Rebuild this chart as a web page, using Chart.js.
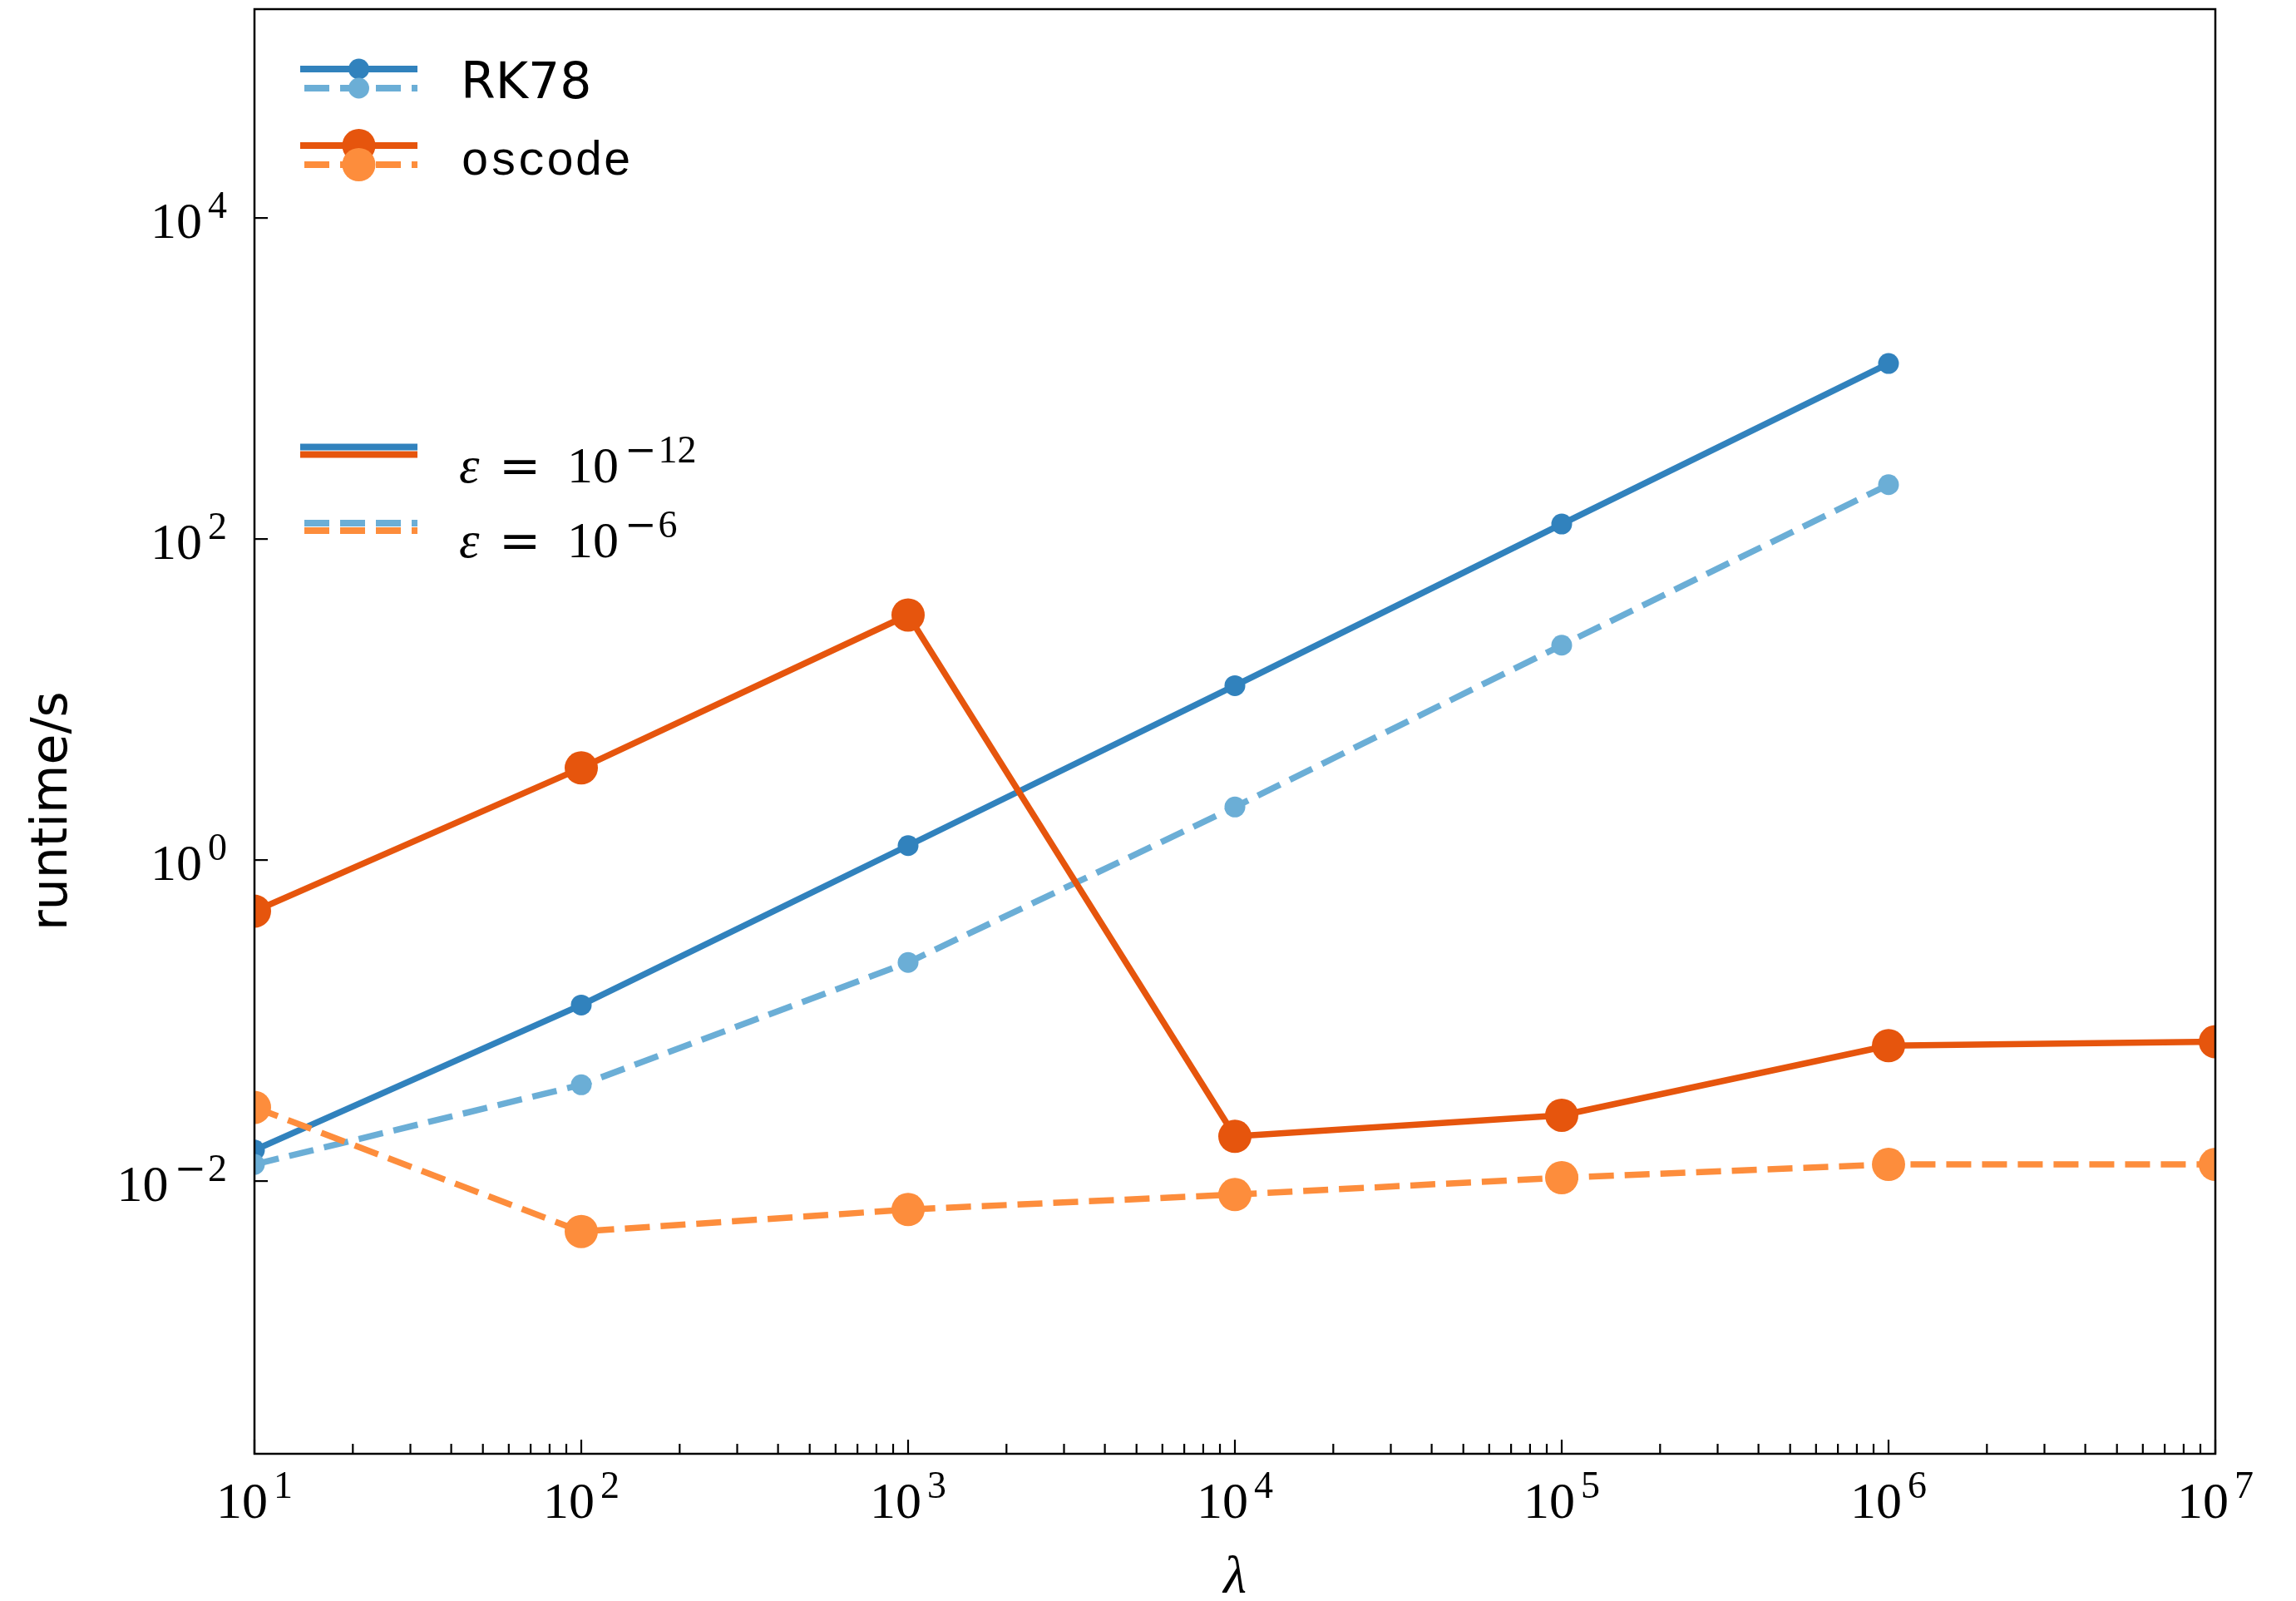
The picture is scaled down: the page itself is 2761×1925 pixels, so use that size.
<!DOCTYPE html>
<html>
<head>
<meta charset="utf-8">
<title>runtime vs lambda</title>
<script src="https://cdn.jsdelivr.net/npm/chart.js@4"></script>
<style>
  html, body { margin: 0; padding: 0; background: #ffffff; }
  #wrap { width: 2761px; height: 1925px; }
</style>
</head>
<body>
<div id="wrap"><canvas id="runtimeChart" width="2761" height="1925"></canvas></div>
<script>
// Values (runtime in seconds)
const lambdaValues = [1e1, 1e2, 1e3, 1e4, 1e5, 1e6, 1e7];
const rk78Tight = [0.0156, 0.125, 1.23, 12.2, 124, 1240];      // eps = 1e-12
const rk78Loose = [0.0127, 0.0398, 0.23, 2.14, 21.8, 218];     // eps = 1e-6
const oscodeTight = [0.48, 3.75, 33.6, 0.019, 0.0257, 0.0698, 0.0738];
const oscodeLoose = [0.0288, 0.00485, 0.00665, 0.00824, 0.0105, 0.0127, 0.0127];

// Axis ticks (powers of ten)
const xTickPowers = [1, 2, 3, 4, 5, 6, 7];
const yTickPowers = [-2, 0, 2, 4];
const xRange = [1e1, 1e7];
const yRange = [2e-4, 2e5];

const colors = {
    rkDark: '#3182bd',
    rkLight: '#6baed6',
    osDark: '#e6550d',
    osLight: '#fd8d3c'
};
const DASH = [30, 13];
const LINE_W = 7.5;

/**
 * Pair x and y arrays into points
 */
function toPoints(xs, ys) {
    return ys.map((v, i) => ({ x: xs[i], y: v }));
}

function lineDataset(label, values, color, dashed, radius, order) {
    return {
        label: label,
        data: toPoints(lambdaValues, values),
        borderColor: color,
        backgroundColor: color,
        pointBackgroundColor: color,
        pointBorderWidth: 0,
        pointRadius: radius,
        pointHoverRadius: radius,
        borderWidth: LINE_W,
        borderDash: dashed ? DASH : [],
        borderJoinStyle: 'round',
        borderCapStyle: 'butt',
        tension: 0,
        fill: false,
        clip: 0,
        order: order
    };
}

/**
 * Draw "10^exp" the way matplotlib mathtext does
 */
function drawPower(ctx, exp, x, baseline, align) {
    const mainFont = '62px "Liberation Serif"';
    const supFont = '46px "Liberation Serif"';
    const minusFont = '46px "DejaVu Serif"';
    const gap = 7;
    const neg = exp < 0;
    const digits = String(Math.abs(exp));

    ctx.font = mainFont;
    const wMain = ctx.measureText('10').width;
    ctx.font = minusFont;
    const wMinus = neg ? ctx.measureText('\u2212').width + 2 : 0;
    ctx.font = supFont;
    const wDig = ctx.measureText(digits).width;
    const total = wMain + gap + wMinus + wDig;

    let x0 = x;
    if (align === 'center') x0 = x - total / 2;
    if (align === 'right') x0 = x - total;

    ctx.textAlign = 'left';
    ctx.textBaseline = 'alphabetic';
    ctx.font = mainFont;
    ctx.fillText('10', x0, baseline);
    let xe = x0 + wMain + gap;
    if (neg) {
        ctx.font = minusFont;
        ctx.fillText('\u2212', xe, baseline - 24);
        xe += wMinus;
    }
    ctx.font = supFont;
    ctx.fillText(digits, xe, baseline - 24);
}

// Frame, inward ticks, tick labels and axis titles
const axesPlugin = {
    id: 'mplAxes',
    afterDatasetsDraw(chart) {
        const { ctx, chartArea: a } = chart;
        const xs = chart.scales.x;
        const ys = chart.scales.y;
        ctx.save();
        ctx.fillStyle = '#000';
        ctx.strokeStyle = '#000';
        ctx.setLineDash([]);

        // x ticks: majors at decades, minors 2..9
        ctx.lineWidth = 2.2;
        xTickPowers.forEach(p => {
            const px = xs.getPixelForValue(Math.pow(10, p));
            ctx.beginPath();
            ctx.moveTo(px, a.bottom);
            ctx.lineTo(px, a.bottom - 17);
            ctx.stroke();
            if (p < xTickPowers[xTickPowers.length - 1]) {
                for (let m = 2; m <= 9; m++) {
                    const mx = xs.getPixelForValue(m * Math.pow(10, p));
                    ctx.beginPath();
                    ctx.moveTo(mx, a.bottom);
                    ctx.lineTo(mx, a.bottom - 12);
                    ctx.stroke();
                }
            }
            drawPower(ctx, p, px, a.bottom + 77, 'center');
        });

        // y ticks
        yTickPowers.forEach(p => {
            const py = ys.getPixelForValue(Math.pow(10, p));
            ctx.beginPath();
            ctx.moveTo(a.left, py);
            ctx.lineTo(a.left + 16, py);
            ctx.stroke();
            drawPower(ctx, p, a.left - 33, py + 24, 'right');
        });

        // frame
        ctx.lineWidth = 2.5;
        ctx.strokeRect(a.left, a.top, a.right - a.left, a.bottom - a.top);

        // axis titles
        ctx.font = 'italic 64px "Liberation Serif"';
        ctx.textAlign = 'center';
        ctx.textBaseline = 'alphabetic';
        ctx.fillText('\u03bb', (a.left + a.right) / 2, 1915);

        ctx.save();
        ctx.translate(80, 975);
        ctx.rotate(-Math.PI / 2);
        ctx.font = '60px "DejaVu Sans"';
        ctx.fillText('runtime/s', 0, 0);
        ctx.restore();

        ctx.restore();
    }
};

/**
 * Legend handle: a line segment with an optional marker in its middle
 */
function drawHandle(ctx, y, color, dashed, radius) {
    ctx.strokeStyle = color;
    ctx.lineWidth = 8;
    ctx.lineCap = 'butt';
    ctx.setLineDash(dashed ? DASH : []);
    ctx.beginPath();
    ctx.moveTo(dashed ? 366 : 361, y);
    ctx.lineTo(502, y);
    ctx.stroke();
    ctx.setLineDash([]);
    if (radius) {
        ctx.fillStyle = color;
        ctx.beginPath();
        ctx.arc(431.5, y, radius, 0, Math.PI * 2);
        ctx.fill();
    }
}

// The two legends of the figure (method and tolerance)
const legendPlugin = {
    id: 'mplLegends',
    afterDraw(chart) {
        const ctx = chart.ctx;
        ctx.save();

        drawHandle(ctx, 83, colors.rkDark, false, 12.5);
        drawHandle(ctx, 106, colors.rkLight, true, 12.5);
        drawHandle(ctx, 175, colors.osDark, false, 20);
        drawHandle(ctx, 198, colors.osLight, true, 20);

        ctx.fillStyle = '#000';
        ctx.textAlign = 'left';
        ctx.textBaseline = 'alphabetic';
        ctx.font = '60px "DejaVu Sans"';
        ctx.fillText('RK78', 554, 118);
        ctx.font = '57px "Liberation Mono"';
        ctx.fillText('oscode', 554, 210);

        drawHandle(ctx, 537.5, colors.rkDark, false, 0);
        drawHandle(ctx, 546.5, colors.osDark, false, 0);
        drawHandle(ctx, 629, colors.rkLight, true, 0);
        drawHandle(ctx, 638, colors.osLight, true, 0);

        const epsRows = [[-12, 580], [-6, 670]];
        epsRows.forEach(([p, base]) => {
            ctx.fillStyle = '#000';
            ctx.textAlign = 'left';
            ctx.font = 'italic 62px "Liberation Serif"';
            ctx.fillText('\u03b5', 552, base);
            ctx.font = '60px "DejaVu Serif"';
            ctx.fillText('=', 600, base);
            drawPower(ctx, p, 682, base, 'left');
        });

        ctx.restore();
    }
};

document.addEventListener('DOMContentLoaded', function() {
    const ctx = document.getElementById('runtimeChart').getContext('2d');
    new Chart(ctx, {
        type: 'line',
        data: {
            datasets: [
                lineDataset('RK78, eps=1e-12', rk78Tight, colors.rkDark, false, 12.5, 4),
                lineDataset('RK78, eps=1e-6', rk78Loose, colors.rkLight, true, 12.5, 3),
                lineDataset('oscode, eps=1e-12', oscodeTight, colors.osDark, false, 20, 2),
                lineDataset('oscode, eps=1e-6', oscodeLoose, colors.osLight, true, 20, 1)
            ]
        },
        options: {
            responsive: false,
            animation: false,
            devicePixelRatio: 1,
            events: [],
            layout: {
                autoPadding: false,
                padding: { left: 306, right: 97, top: 11, bottom: 177 }
            },
            scales: {
                x: {
                    type: 'logarithmic',
                    min: xRange[0],
                    max: xRange[1],
                    display: false
                },
                y: {
                    type: 'logarithmic',
                    min: yRange[0],
                    max: yRange[1],
                    display: false
                }
            },
            plugins: {
                legend: { display: false },
                tooltip: { enabled: false }
            }
        },
        plugins: [axesPlugin, legendPlugin]
    });
});
</script>
</body>
</html>
